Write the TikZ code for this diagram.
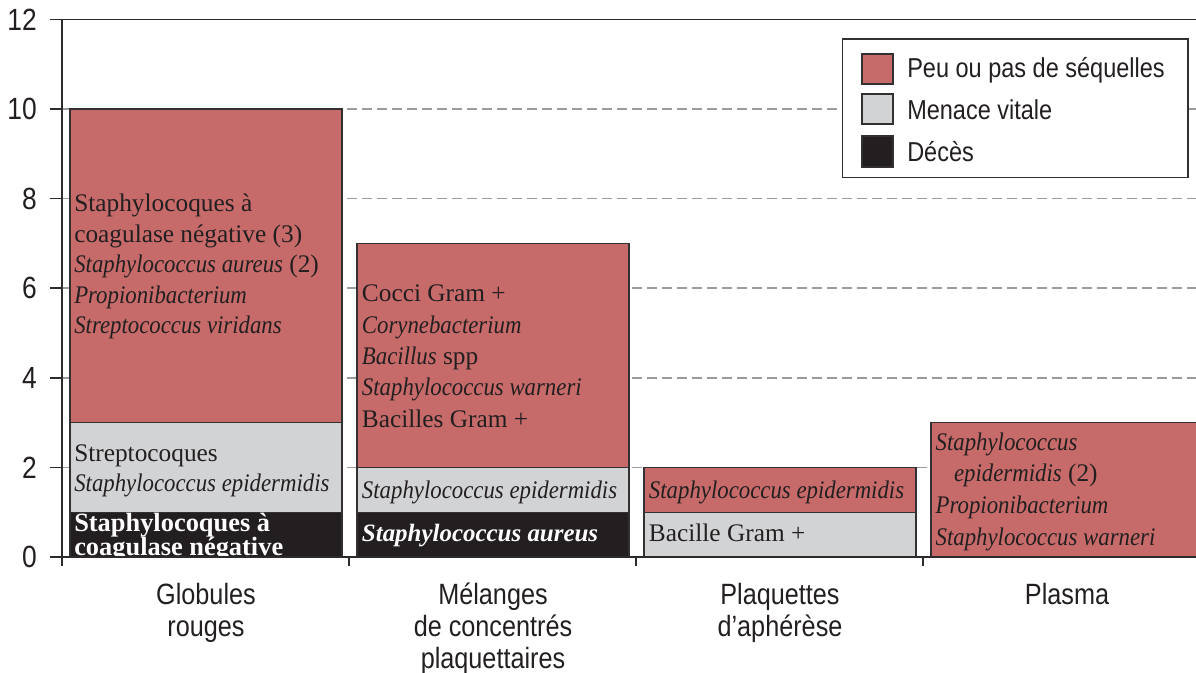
\documentclass[tikz,border=0pt]{standalone}
\usepackage{fontspec}
\setmainfont{Liberation Serif}[ItalicFeatures={FakeStretch=0.9}]
\newfontfamily\condsans{Liberation Sans}[FakeStretch=0.86]
\definecolor{barred}{RGB}{199,106,106}
\definecolor{bargray}{RGB}{210,211,213}
\definecolor{barblack}{RGB}{35,31,32}
\definecolor{segline}{RGB}{50,48,48}
\definecolor{gridgray}{RGB}{155,155,157}
\definecolor{axisdark}{RGB}{45,42,42}
\definecolor{txtdark}{RGB}{35,31,32}
\begin{document}
\begin{tikzpicture}[x=0.75pt,y=-0.75pt,
  seg/.style={draw=segline,line width=0.8pt},
  gridln/.style={draw=gridgray,line width=1.25pt,dash pattern=on 7.5pt off 3.75pt},
  axisln/.style={draw=axisdark,line width=1.3pt},
  bartxt/.style={anchor=base west,inner sep=0pt,text=txtdark,font=\fontsize{19}{23}\selectfont},
  deathtxt/.style={anchor=base west,inner sep=0pt,text=white,font=\fontsize{19.8}{23}\selectfont\bfseries},
  cat/.style={anchor=base,inner sep=0pt,text=txtdark,font=\condsans\fontsize{22}{24}\selectfont},
  ticklab/.style={anchor=east,inner sep=0pt,text=txtdark,font=\condsans\fontsize{23}{24}\selectfont},
  legtxt/.style={anchor=base west,inner sep=0pt,text=txtdark,font=\condsans\fontsize{20.5}{24}\selectfont},
  swatch/.style={draw=segline,line width=0.8pt}
]
\useasboundingbox (0,0) rectangle (1196,672);

% grid lines
\foreach \yy in {109,198.6,288.2,377.8,467.4}
  \draw[gridln] (62,\yy) -- (1196,\yy);

% bar 1 : Globules rouges
\filldraw[seg,fill=barblack] (70,512.2) rectangle (342,557);
\filldraw[seg,fill=bargray] (70,422.6) rectangle (342,512.2);
\filldraw[seg,fill=barred] (70,109) rectangle (342,422.6);
% bar 2 : Melanges
\filldraw[seg,fill=barblack] (357,512.2) rectangle (629,557);
\filldraw[seg,fill=bargray] (357,467.4) rectangle (629,512.2);
\filldraw[seg,fill=barred] (357,243.4) rectangle (629,467.4);
% bar 3 : Plaquettes d'apherese
\filldraw[seg,fill=bargray] (644,512.2) rectangle (916,557);
\filldraw[seg,fill=barred] (644,467.4) rectangle (916,512.2);
% bar 4 : Plasma
\filldraw[seg,fill=barred] (931,422.6) rectangle (1203,557);

% bar 1 texts
\node[bartxt] (b1r1) at (74,211.7) {Staphylocoques à};
\node[bartxt] (b1r2) at (74,242.2) {coagulase négative (3)};
\node[bartxt] (b1r3) at (74,272.7) {\textit{Staphylococcus aureus} (2)};
\node[bartxt] (b1r4) at (74,303.2) {\textit{Propionibacterium}};
\node[bartxt] (b1r5) at (74,333.7) {\textit{Streptococcus viridans}};
\node[bartxt] (b1g1) at (74,461) {Streptocoques};
\node[bartxt] (b1g2) at (74,491) {\textit{Staphylococcus epidermidis}};
\begin{scope}
  \clip (70,512.2) rectangle (342,557);
  \node[deathtxt] (b1d1) at (74,531.7) {Staphylocoques à};
  \node[deathtxt] (b1d2) at (74,555.7) {coagulase négative};
\end{scope}

% bar 2 texts
\node[bartxt] (b2r1) at (361.7,301.7) {Cocci Gram +};
\node[bartxt] (b2r2) at (361.7,333.1) {\textit{Corynebacterium}};
\node[bartxt] (b2r3) at (361.7,364.5) {\textit{Bacillus} spp};
\node[bartxt] (b2r4) at (361.7,395.9) {\textit{Staphylococcus warneri}};
\node[bartxt] (b2r5) at (361.7,427.3) {Bacilles Gram +};
\node[bartxt] (b2g1) at (361.7,498.3) {\textit{Staphylococcus epidermidis}};
\node[deathtxt,font=\fontsize{18.7}{23}\selectfont\bfseries] (b2d1) at (361.7,541.7) {\textit{Staphylococcus aureus}};

% bar 3 texts
\node[bartxt] (b3r1) at (648.7,498.3) {\textit{Staphylococcus epidermidis}};
\node[bartxt] (b3g1) at (648.7,541.7) {Bacille Gram +};

% bar 4 texts
\node[bartxt] (b4r1) at (935.4,450) {\textit{Staphylococcus}};
\node[bartxt] (b4r2) at (953.8,481.7) {\textit{epidermidis} (2)};
\node[bartxt] (b4r3) at (935.4,513.4) {\textit{Propionibacterium}};
\node[bartxt] (b4r4) at (935.4,545) {\textit{Staphylococcus warneri}};

% legend
\filldraw[draw=segline,line width=0.8pt,fill=white] (842.7,39) rectangle (1188,177.7);
\filldraw[swatch,fill=barred] (862,54) rectangle (893,84);
\filldraw[swatch,fill=bargray] (862,94) rectangle (893,124);
\filldraw[swatch,fill=barblack] (862,136) rectangle (893,167);
\node[legtxt] (l1) at (907,77) {Peu ou pas de séquelles};
\node[legtxt] (l2) at (907,119.5) {Menace vitale};
\node[legtxt] (l3) at (907,161.5) {Décès};

% axes
\draw[axisln] (62,19.4) -- (62,566);
\draw[axisln] (50,19.4) -- (1196,19.4);
\draw[axisln] (50,557) -- (1196,557);
\foreach \yy in {109,198.6,288.2,377.8,467.4}
  \draw[axisln] (50,\yy) -- (62,\yy);
\foreach \xx in {349,636,923}
  \draw[axisln] (\xx,557) -- (\xx,566);

% tick labels
\node[ticklab] (t12) at (37,19.4) {12};
\node[ticklab] (t10) at (37,109) {10};
\node[ticklab] (t8) at (37,198.6) {8};
\node[ticklab] (t6) at (37,288.2) {6};
\node[ticklab] (t4) at (37,377.8) {4};
\node[ticklab] (t2) at (37,467.4) {2};
\node[ticklab] (t0) at (37,557) {0};

% category labels
\node[cat] (c1a) at (206,604) {Globules};
\node[cat] (c1b) at (206,636) {rouges};
\node[cat] (c2a) at (493,604) {Mélanges};
\node[cat] (c2b) at (493,636) {de concentrés};
\node[cat] (c2c) at (493,668) {plaquettaires};
\node[cat] (c3a) at (780,604) {Plaquettes};
\node[cat] (c3b) at (780,636) {d’aphérèse};
\node[cat] (c4a) at (1067,604) {Plasma};
\end{tikzpicture}
\end{document}
